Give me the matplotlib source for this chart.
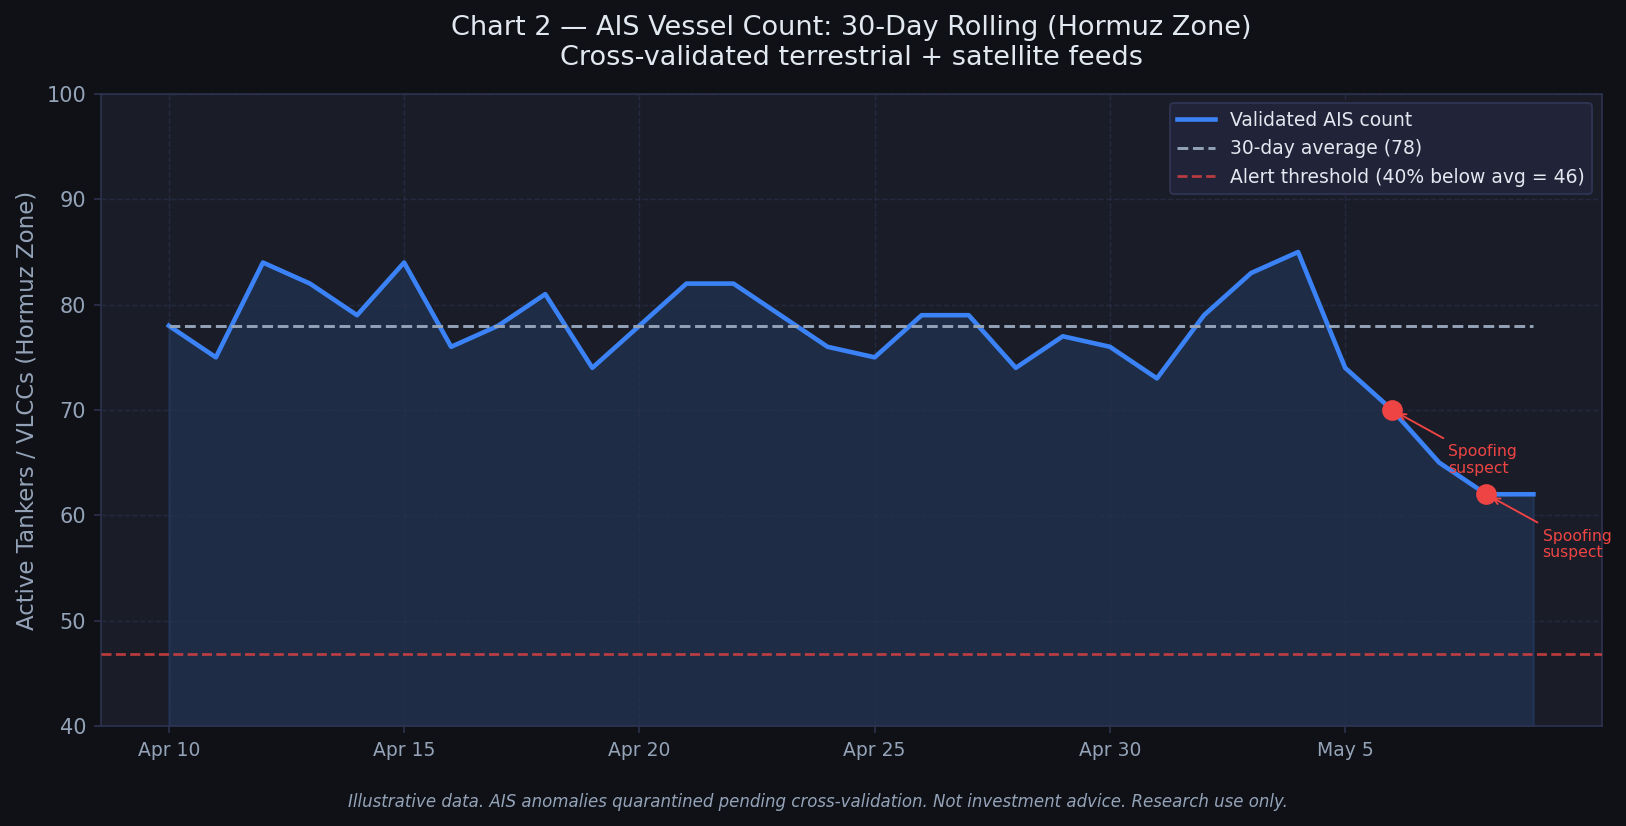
import matplotlib
matplotlib.use("Agg")
import matplotlib.pyplot as plt
import pandas as pd

dates = pd.date_range("2025-04-10", periods=30, freq="D")
counts = [78, 75, 84, 82, 79, 84, 76, 78, 81, 74, 78, 82, 82, 79, 76, 75, 79, 79, 74, 77,
          76, 73, 79, 83, 85, 74, 70, 65, 62, 62]
average = [78] * 30
threshold = 46.8
spoof_dates = pd.to_datetime(["2025-05-06", "2025-05-08"])
spoof_counts = [70, 62]
tick_dates = pd.to_datetime(["2025-04-10", "2025-04-15", "2025-04-20", "2025-04-25", "2025-04-30", "2025-05-05"])
tick_labels = ["Apr 10", "Apr 15", "Apr 20", "Apr 25", "Apr 30", "May 5"]
y_ticks = [40, 50, 60, 70, 80, 90, 100]

BG = "#0f1117"
PANEL = "#1a1d27"
EDGE = "#2d3250"
MUTED = "#94a3b8"
BLUE = "#3b82f6"
RED = "#ef4444"

dpi = 150
fig = plt.figure(figsize=(1626 / dpi, 826 / dpi), dpi=dpi, facecolor=BG)
ax = fig.add_axes([100.6 / 1626, 1 - 726 / 826, (1601.6 - 100.6) / 1626, (726 - 94) / 826], facecolor=PANEL)

ax.fill_between(dates, counts, 40, color=BLUE, alpha=0.15)
ax.plot(dates, counts, color=BLUE, lw=2.2, label="Validated AIS count", zorder=3)
ax.plot(dates, average, color=MUTED, lw=1.4, ls="--", label="30-day average (78)", zorder=3)
ax.axhline(threshold, color=RED, lw=1.3, ls="--", alpha=0.75, label="Alert threshold (40% below avg = 46)", zorder=3)
ax.scatter(spoof_dates, spoof_counts, color=RED, s=80, zorder=5)

for d, v in zip(spoof_dates, spoof_counts):
    ax.annotate("Spoofing\nsuspect", xy=(d, v), xytext=(27, -24), textcoords="offset points",
                color=RED, fontsize=7.5, linespacing=1.1, va="center",
                arrowprops=dict(arrowstyle="->", color=RED, lw=0.9, shrinkB=3), annotation_clip=False, zorder=6)

ax.set_ylim(40, 100)
ax.set_yticks(y_ticks)
ax.set_xticks(tick_dates)
ax.set_xticklabels(tick_labels)
ax.tick_params(axis="x", colors=MUTED, labelsize=9, color=EDGE)
ax.tick_params(axis="y", colors=MUTED, labelsize=10, color=EDGE)
ax.grid(True, color=EDGE, lw=0.7, ls="--", alpha=0.6)
for s in ax.spines.values():
    s.set_color(EDGE)
ax.set_ylabel("Active Tankers / VLCCs (Hormuz Zone)", color=MUTED, fontsize=11)
ax.yaxis.set_label_coords(-0.0415, 0.5)

leg = ax.legend(loc="upper right", fontsize=9, facecolor="#212438", edgecolor=EDGE, labelcolor="#e2e8f0", framealpha=1)
leg.set_zorder(10)

fig.text(0.5235, 0.982, "Chart 2 — AIS Vessel Count: 30-Day Rolling (Hormuz Zone)\nCross-validated terrestrial + satellite feeds",
         color="#e2e8f0", fontsize=13, ha="center", va="top")
fig.text(0.5030, 0.029, "Illustrative data. AIS anomalies quarantined pending cross-validation. Not investment advice. Research use only.",
         color=MUTED, fontsize=8, ha="center", va="center", style="italic")

fig.savefig("out.png", dpi=dpi, facecolor=BG)
